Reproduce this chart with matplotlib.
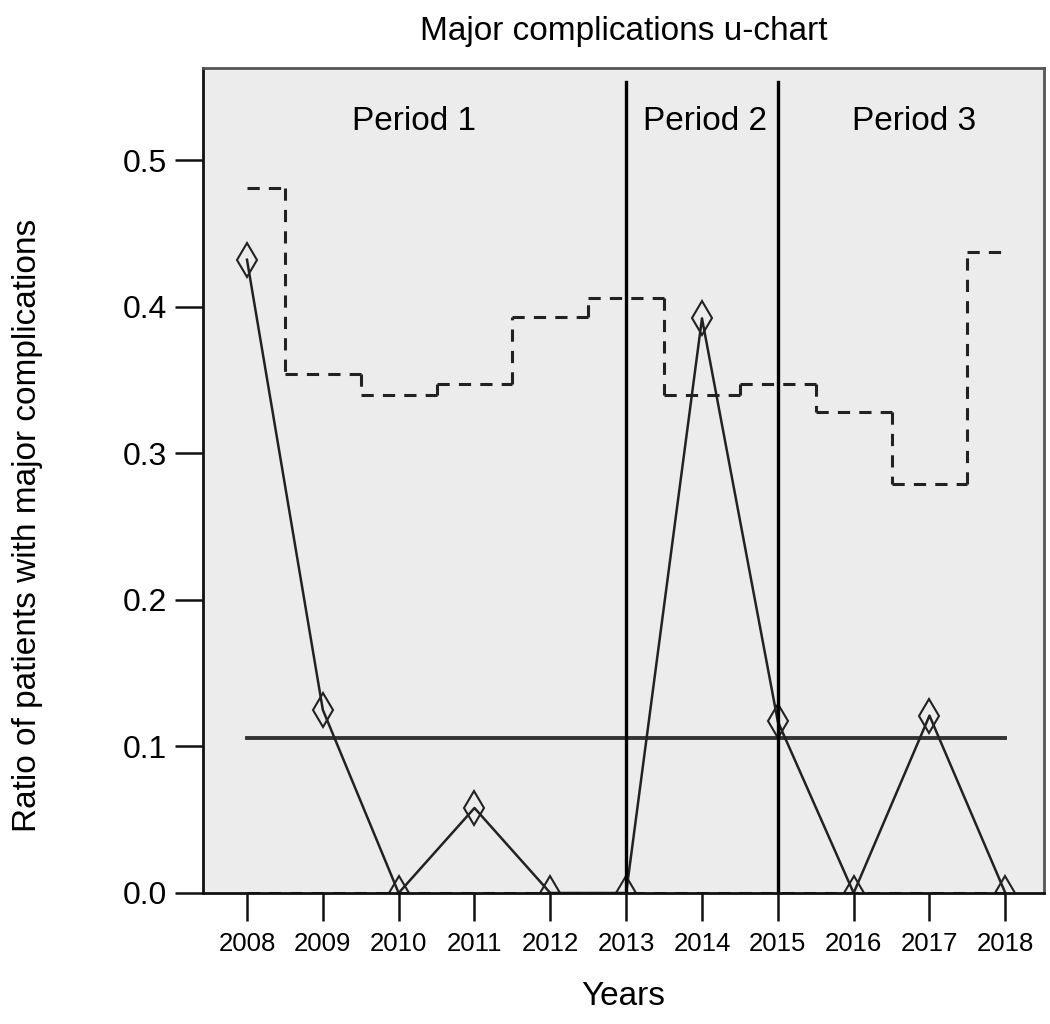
import numpy as np
import matplotlib
matplotlib.use("Agg")
import matplotlib.pyplot as plt

years = [2008, 2009, 2010, 2011, 2012, 2013, 2014, 2015, 2016, 2017, 2018]
ratio = [0.432, 0.125, 0.0, 0.058, 0.0, 0.0, 0.392, 0.117, 0.0, 0.121, 0.0]
ucl = [0.481, 0.354, 0.340, 0.347, 0.393, 0.406, 0.340, 0.347, 0.328, 0.279, 0.437]
center = 0.106
lcl = 0.0
period_breaks = [2013, 2015]
period_labels = ["Period 1", "Period 2", "Period 3"]
period_pos = [2010.2, 2014.04, 2016.8]

plt.rcParams["font.family"] = ["Liberation Sans", "DejaVu Sans"]

fig = plt.figure(figsize=(10.5, 10.24), dpi=100)
ax = fig.add_axes([203 / 1050, 1 - 893 / 1024, (1044 - 203) / 1050, (893 - 68) / 1024])
ax.set_facecolor("#ececec")

# upper control limit as steps centred on each year
edges = [years[0]] + [y + 0.5 for y in years[:-1]] + [years[-1]]
dash = (0, (4, 3))
for i, u in enumerate(ucl):
    ax.plot([edges[i], edges[i + 1]], [u, u], color="#222222", lw=2.2, ls=dash)
    if i > 0:
        ax.plot([edges[i], edges[i]], [ucl[i - 1], u], color="#222222", lw=2.2, ls=dash)

ax.plot([years[0], years[-1]], [lcl, lcl], color="#222222", lw=2.2, ls=dash)
ax.plot([years[0], years[-1]], [center, center], color="#333333", lw=2.8)
ax.plot(years, ratio, color="#222222", lw=1.8, marker="d", markersize=17,
        markerfacecolor="none", markeredgecolor="#222222", markeredgewidth=1.5)

for b in period_breaks:
    ax.plot([b, b], [0, 0.553], color="black", lw=2.4)
for lab, x in zip(period_labels, period_pos):
    ax.text(x, 0.526, lab, ha="center", va="center", fontsize=24)

ax.set_xlim(2007.42, 2018.51)
ax.set_ylim(0, 0.5628)
ax.set_xticks(years)
ax.set_xticklabels([str(y) for y in years], fontsize=18.5)
ax.set_yticks([0.0, 0.1, 0.2, 0.3, 0.4, 0.5])
ax.set_yticklabels(["0.0", "0.1", "0.2", "0.3", "0.4", "0.5"], fontsize=23)
ax.tick_params(axis="both", direction="out", length=20, width=1.8, color="#111111")
ax.tick_params(axis="x", pad=8)
ax.tick_params(axis="y", pad=6)
for s in ax.spines.values():
    s.set_color("#555555")
    s.set_linewidth(2)
ax.spines["bottom"].set_color("#111111")
ax.spines["left"].set_color("#111111")

ax.set_xlabel("Years", fontsize=24, labelpad=18)
ax.set_ylabel("Ratio of patients with major complications", fontsize=24)
ax.yaxis.set_label_coords(-0.19, 0.445)
ax.set_title("Major complications u-chart", fontsize=24, pad=20)

fig.savefig("out.png", dpi=100)
